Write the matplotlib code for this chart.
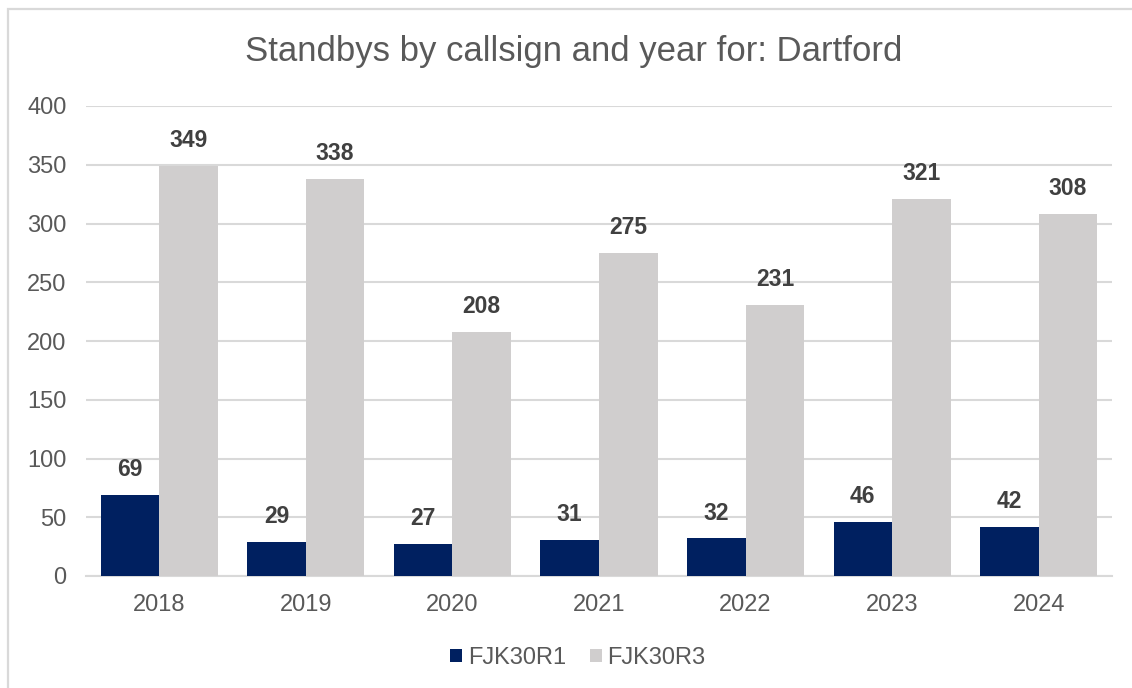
import numpy as np
import matplotlib.pyplot as plt
from matplotlib.patches import Rectangle

plt.rcParams['font.family'] = ['Liberation Sans', 'DejaVu Sans']

years = ['2018', '2019', '2020', '2021', '2022', '2023', '2024']
fjk30r1 = [69, 29, 27, 31, 32, 46, 42]
fjk30r3 = [349, 338, 208, 275, 231, 321, 308]

dark = '#002060'
light = '#D0CECE'
txt = '#595959'

fig = plt.figure(figsize=(11.32, 6.88), dpi=100)

# chart frame (only left and top edges are in view)
fig.patches.append(Rectangle((8 / 1132, -0.1), 1.2, 1 - 9 / 688 + 0.1,
                             transform=fig.transFigure, fill=False,
                             edgecolor='#D9D9D9', linewidth=1.6))

ax = fig.add_axes([86 / 1132, 1 - 576 / 688, (1112 - 86) / 1132, (576 - 106) / 688])

x = np.arange(len(years))
w = 0.4
b1 = ax.bar(x - w / 2, fjk30r1, w, color=dark, label='FJK30R1', zorder=3)
b2 = ax.bar(x + w / 2, fjk30r3, w, color=light, label='FJK30R3', zorder=3)

for bars in (b1, b2):
    ax.bar_label(bars, padding=10, fontsize=16.5, fontweight='bold', color='#404040')

ax.set_xlim(-0.5, len(years) - 0.5)
ax.set_ylim(0, 400)
ax.set_yticks(range(0, 401, 50))
ax.set_xticks(x)
ax.set_xticklabels(years)
ax.grid(axis='y', color='#D9D9D9', linewidth=1.5, zorder=0)
ax.tick_params(axis='both', length=0, labelsize=17, labelcolor=txt)
ax.tick_params(axis='y', pad=14)
ax.tick_params(axis='x', pad=13)
for s in ['top', 'right', 'left']:
    ax.spines[s].set_visible(False)
ax.spines['bottom'].set_color('#D9D9D9')
ax.spines['bottom'].set_linewidth(1.5)

fig.text(0.507, 1 - 52 / 688, 'Standbys by callsign and year for: Dartford',
         ha='center', va='center', fontsize=25, color=txt)

fig.legend(loc='center', bbox_to_anchor=(578 / 1132, 1 - 658 / 688), ncol=2,
           frameon=False, fontsize=17, labelcolor=txt, handlelength=0.5,
           handleheight=0.5, handletextpad=0.25, columnspacing=1.0)

fig.savefig('out.png', dpi=100)
